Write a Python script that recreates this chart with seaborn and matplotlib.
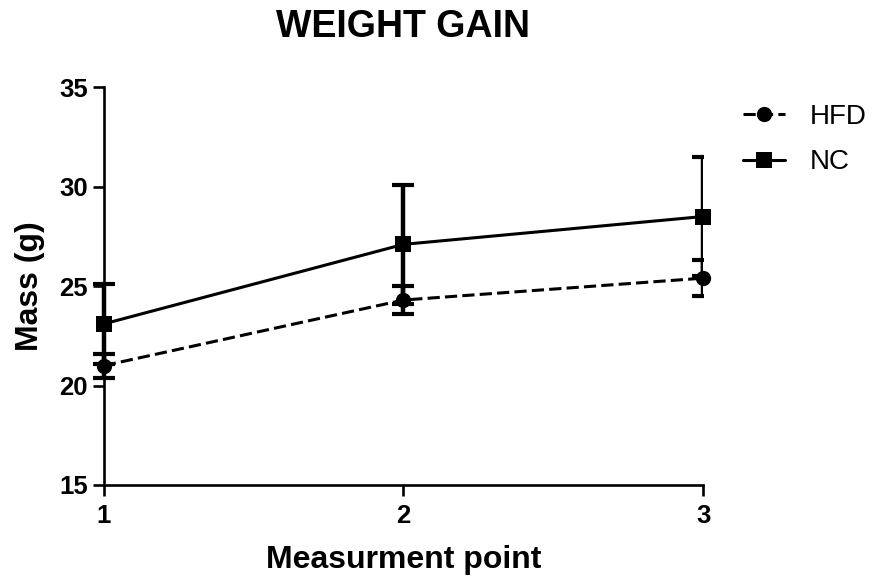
import matplotlib

matplotlib.use("Agg")
import matplotlib.pyplot as plt
import numpy as np
import pandas as pd
import seaborn as sns
from matplotlib.patches import Rectangle

# values
points = [1, 2, 3]
groups = ["HFD", "NC"]
hfd_mean = [21.0, 24.3, 25.4]
hfd_err = [0.6, 0.7, 0.9]
nc_mean = [23.1, 27.1, 28.5]
nc_err = [2.0, 3.0, 3.0]

sns.set_theme(style="ticks")
plt.rcParams["font.family"] = ["Liberation Sans", "DejaVu Sans"]
plt.rcParams["text.color"] = "black"
plt.rcParams["axes.labelcolor"] = "black"
plt.rcParams["xtick.color"] = "black"
plt.rcParams["ytick.color"] = "black"

frame = pd.DataFrame(
    {
        "Measurment point": points * 2,
        "Mass (g)": hfd_mean + nc_mean,
        "Group": ["HFD"] * 3 + ["NC"] * 3,
    }
)
errors = {"HFD": hfd_err, "NC": nc_err}

fig = plt.figure(figsize=(8.8, 5.78), dpi=100)
ax = fig.add_axes([0.118, 0.161, 0.681, 0.688])

sns.lineplot(
    data=frame,
    x="Measurment point",
    y="Mass (g)",
    style="Group",
    style_order=groups,
    markers={"HFD": "o", "NC": "s"},
    dashes={"HFD": (4.0, 1.7), "NC": ""},
    color="black",
    linewidth=2.2,
    markersize=11,
    markeredgewidth=0,
    errorbar=None,
    ax=ax,
)
for line in ax.lines:
    line.set_clip_on(False)

# error bars: clipped at the right end of the x axis like the original
clip = Rectangle((0.5, 0), 2.5, 50, transform=ax.transData)
for name in groups:
    sub = frame[frame["Group"] == name]
    cont = ax.errorbar(
        sub["Measurment point"],
        sub["Mass (g)"],
        yerr=errors[name],
        fmt="none",
        ecolor="black",
        elinewidth=3.2,
        capsize=8,
        capthick=3,
    )
    for artist in list(cont.lines[1]) + list(cont.lines[2]):
        artist.set_clip_path(clip)

ax.set_xlim(1, 3)
ax.set_ylim(15, 35)
ax.set_xticks(points)
ax.set_yticks([15, 20, 25, 30, 35])
sns.despine(ax=ax)
for side in ("left", "bottom"):
    ax.spines[side].set_linewidth(1.9)
    ax.spines[side].set_color("black")
ax.tick_params(axis="both", length=8, width=1.9, color="black", labelsize=18.5)
ax.tick_params(axis="x", pad=6)
ax.tick_params(axis="y", pad=3.5)
for lab in ax.get_xticklabels() + ax.get_yticklabels():
    lab.set_fontweight("bold")

ax.set_xlabel("Measurment point", fontsize=23, fontweight="bold")
ax.set_ylabel("Mass (g)", fontsize=23, fontweight="bold")
ax.xaxis.set_label_coords(0.5, -0.151)
ax.yaxis.set_label_coords(-0.099, 0.5)

fig.text(0.458, 0.953, "WEIGHT GAIN", ha="center", va="center",
         fontsize=27, fontweight="bold")

ax.legend(
    loc="upper left",
    bbox_to_anchor=(743 / 880, 1 - 104 / 578),
    bbox_transform=fig.transFigure,
    frameon=False,
    fontsize=20,
    handlelength=1.5,
    handletextpad=0.9,
    labelspacing=0.7,
    borderpad=0,
    borderaxespad=0,
    title=None,
)

fig.savefig("out.png", dpi=100)
